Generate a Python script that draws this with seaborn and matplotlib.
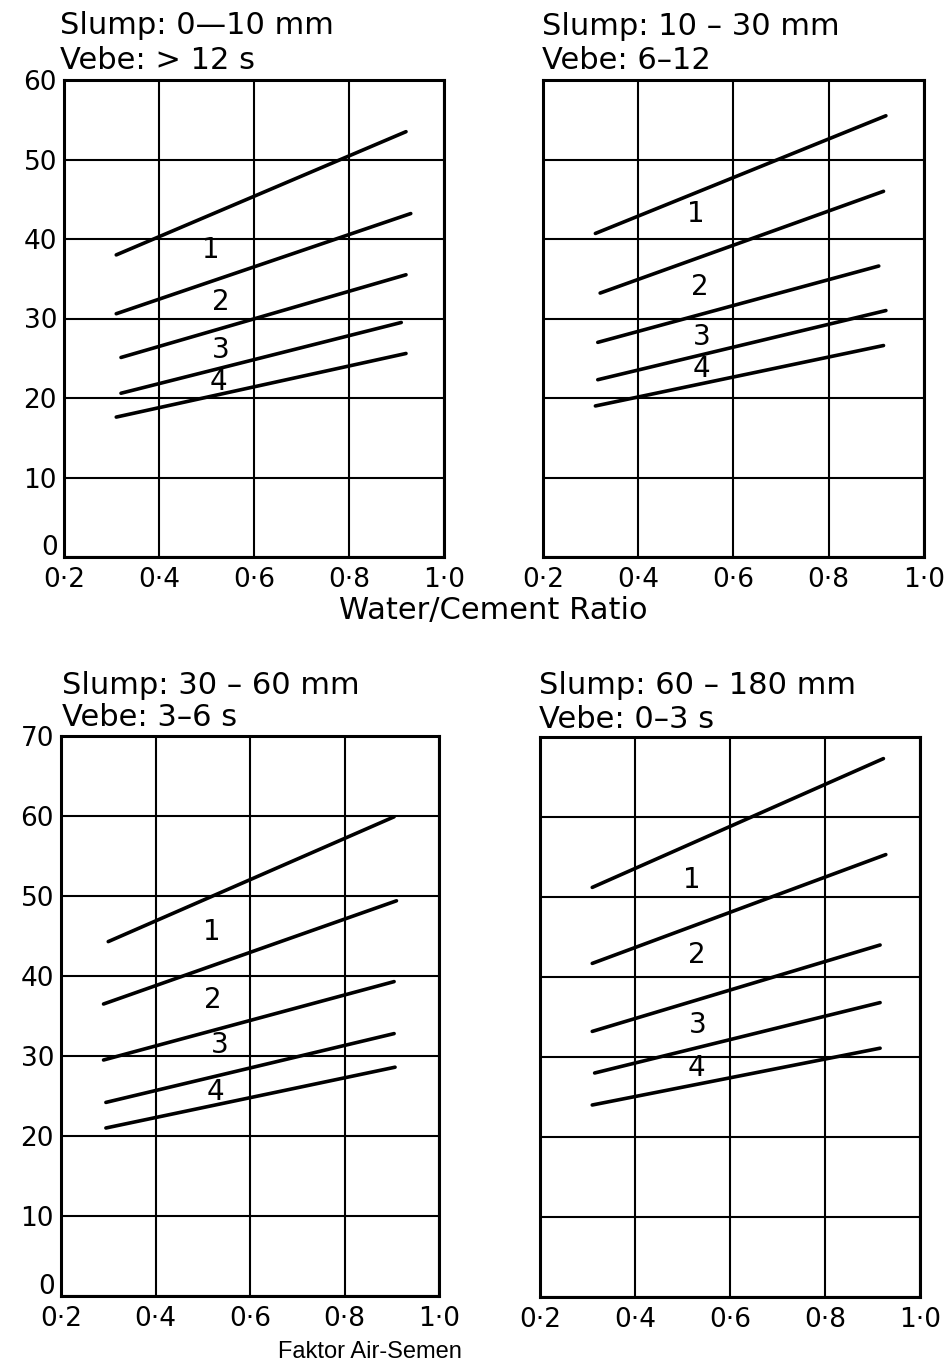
import matplotlib
matplotlib.use("Agg")
import matplotlib.pyplot as plt
import seaborn as sns
import pandas as pd

# ---------------- data ----------------
x_ticks = [0.2, 0.4, 0.6, 0.8, 1.0]
x_tick_labels = ["0·2", "0·4", "0·6", "0·8", "1·0"]
y_ticks_top = [0, 10, 20, 30, 40, 50, 60]
y_ticks_bottom = [0, 10, 20, 30, 40, 50, 60, 70]
zone_labels = ["1", "2", "3", "4"]

slump_titles = ["Slump: 0—10 mm", "Slump: 10 – 30 mm", "Slump: 30 – 60 mm", "Slump: 60 – 180 mm"]
vebe_titles = ["Vebe: > 12 s", "Vebe: 6–12", "Vebe: 3–6 s", "Vebe: 0–3 s"]

# each boundary curve: [w/c start, w/c end] and [value start, value end]
tl_wc = [[0.31, 0.92], [0.31, 0.93], [0.32, 0.92], [0.32, 0.91], [0.31, 0.92]]
tl_val = [[38.0, 53.5], [30.6, 43.2], [25.1, 35.5], [20.6, 29.5], [17.6, 25.6]]
tl_zone_x = [0.51, 0.53, 0.53, 0.525]
tl_zone_y = [38.6, 32.1, 26.1, 22.0]

tr_wc = [[0.31, 0.92], [0.32, 0.915], [0.315, 0.905], [0.315, 0.92], [0.31, 0.915]]
tr_val = [[40.7, 55.5], [33.2, 46.0], [27.0, 36.6], [22.3, 31.0], [19.0, 26.6]]
tr_zone_x = [0.52, 0.53, 0.533, 0.533]
tr_zone_y = [43.2, 34.0, 27.7, 23.7]

bl_wc = [[0.30, 0.905], [0.29, 0.91], [0.29, 0.905], [0.295, 0.905], [0.295, 0.907]]
bl_val = [[44.3, 59.9], [36.5, 49.4], [29.5, 39.3], [24.2, 32.8], [21.0, 28.6]]
bl_zone_x = [0.52, 0.522, 0.537, 0.526]
bl_zone_y = [45.5, 37.0, 31.4, 25.5]

br_wc = [[0.31, 0.923], [0.31, 0.928], [0.31, 0.916], [0.315, 0.916], [0.31, 0.916]]
br_val = [[51.2, 67.3], [41.7, 55.3], [33.2, 44.0], [28.0, 36.8], [24.0, 31.1]]
br_zone_x = [0.52, 0.53, 0.533, 0.53]
br_zone_y = [52.1, 42.7, 34.0, 28.6]

x_axis_title = "Water/Cement Ratio"
caption = "Faktor Air-Semen"

# ---------------- style ----------------
sns.set_theme(style="white")
plt.rcParams["font.family"] = ["DejaVu Sans"]
plt.rcParams["text.color"] = "black"
plt.rcParams["xtick.color"] = "black"
plt.rcParams["ytick.color"] = "black"
plt.rcParams["xtick.labelcolor"] = "black"
plt.rcParams["ytick.labelcolor"] = "black"

W, H = 953, 1365
fig = plt.figure(figsize=(W / 100, H / 100), dpi=100)


def px_axes(l, t, r, b):
    return fig.add_axes([l / W, 1 - b / H, (r - l) / W, (b - t) / H])


def draw_panel(ax, wc, val, zx, zy, ymax, yticks, show_y):
    rows = []
    for i, (xs, ys) in enumerate(zip(wc, val)):
        for x, y in zip(xs, ys):
            rows.append({"wc": x, "value": y, "curve": i})
    df = pd.DataFrame(rows)
    ax.set_xlim(0.2, 1.0)
    ax.set_ylim(0, ymax)
    ax.set_xticks(x_ticks)
    ax.set_yticks(yticks)
    ax.grid(True, color="black", linewidth=1.5)
    ax.set_axisbelow(True)
    sns.lineplot(data=df, x="wc", y="value", hue="curve",
                 palette=["black"] * len(wc), legend=False,
                 linewidth=2.6, ax=ax, zorder=3)
    for lab, x, y in zip(zone_labels, zx, zy):
        ax.text(x, y, lab, fontsize=20, ha="center", va="center", color="black", zorder=4)
    ax.set_xticklabels(x_tick_labels, fontsize=19, color="black")
    if show_y:
        labels = [str(v) for v in yticks]
        # the "0" label sits a little higher in the original; drawn separately
        ax.set_yticklabels([""] + labels[1:], fontsize=19, color="black")
        ax.annotate(labels[0], xy=(0, yticks[0]), xycoords=("axes fraction", "data"),
                    xytext=(-6, 9), textcoords="offset pixels",
                    ha="right", va="center", fontsize=19, color="black")
    else:
        ax.set_yticklabels([])
    ax.tick_params(length=0, pad=5)
    ax.tick_params(axis="x", pad=7)
    ax.set_xlabel("")
    ax.set_ylabel("")
    for s in ax.spines.values():
        s.set_color("black")
        s.set_linewidth(2.2)
        s.set_visible(True)


ax_tl = px_axes(64, 80, 444, 557)
ax_tr = px_axes(543, 80, 924, 557)
ax_bl = px_axes(61, 736, 439, 1296)
ax_br = px_axes(540, 737, 920, 1297)

draw_panel(ax_tl, tl_wc, tl_val, tl_zone_x, tl_zone_y, 60, y_ticks_top, True)
draw_panel(ax_tr, tr_wc, tr_val, tr_zone_x, tr_zone_y, 60, y_ticks_top, False)
draw_panel(ax_bl, bl_wc, bl_val, bl_zone_x, bl_zone_y, 70, y_ticks_bottom, True)
draw_panel(ax_br, br_wc, br_val, br_zone_x, br_zone_y, 70, y_ticks_bottom, False)

title_pos = [(60, 34, 69), (542, 35, 69), (62, 694, 726), (539, 694, 728)]
for (x, b1, b2), s1, s2 in zip(title_pos, slump_titles, vebe_titles):
    fig.text(x / W, 1 - b1 / H, s1, fontsize=22, ha="left", va="baseline")
    fig.text(x / W, 1 - b2 / H, s2, fontsize=22, ha="left", va="baseline")

fig.text(493 / W, 1 - 619 / H, x_axis_title, fontsize=22, ha="center", va="baseline")
fig.text(370 / W, 1 - 1358 / H, caption, fontsize=17, ha="center", va="baseline",
         family=["Liberation Sans", "DejaVu Sans"])

fig.savefig("out.png", dpi=100, facecolor="white")
